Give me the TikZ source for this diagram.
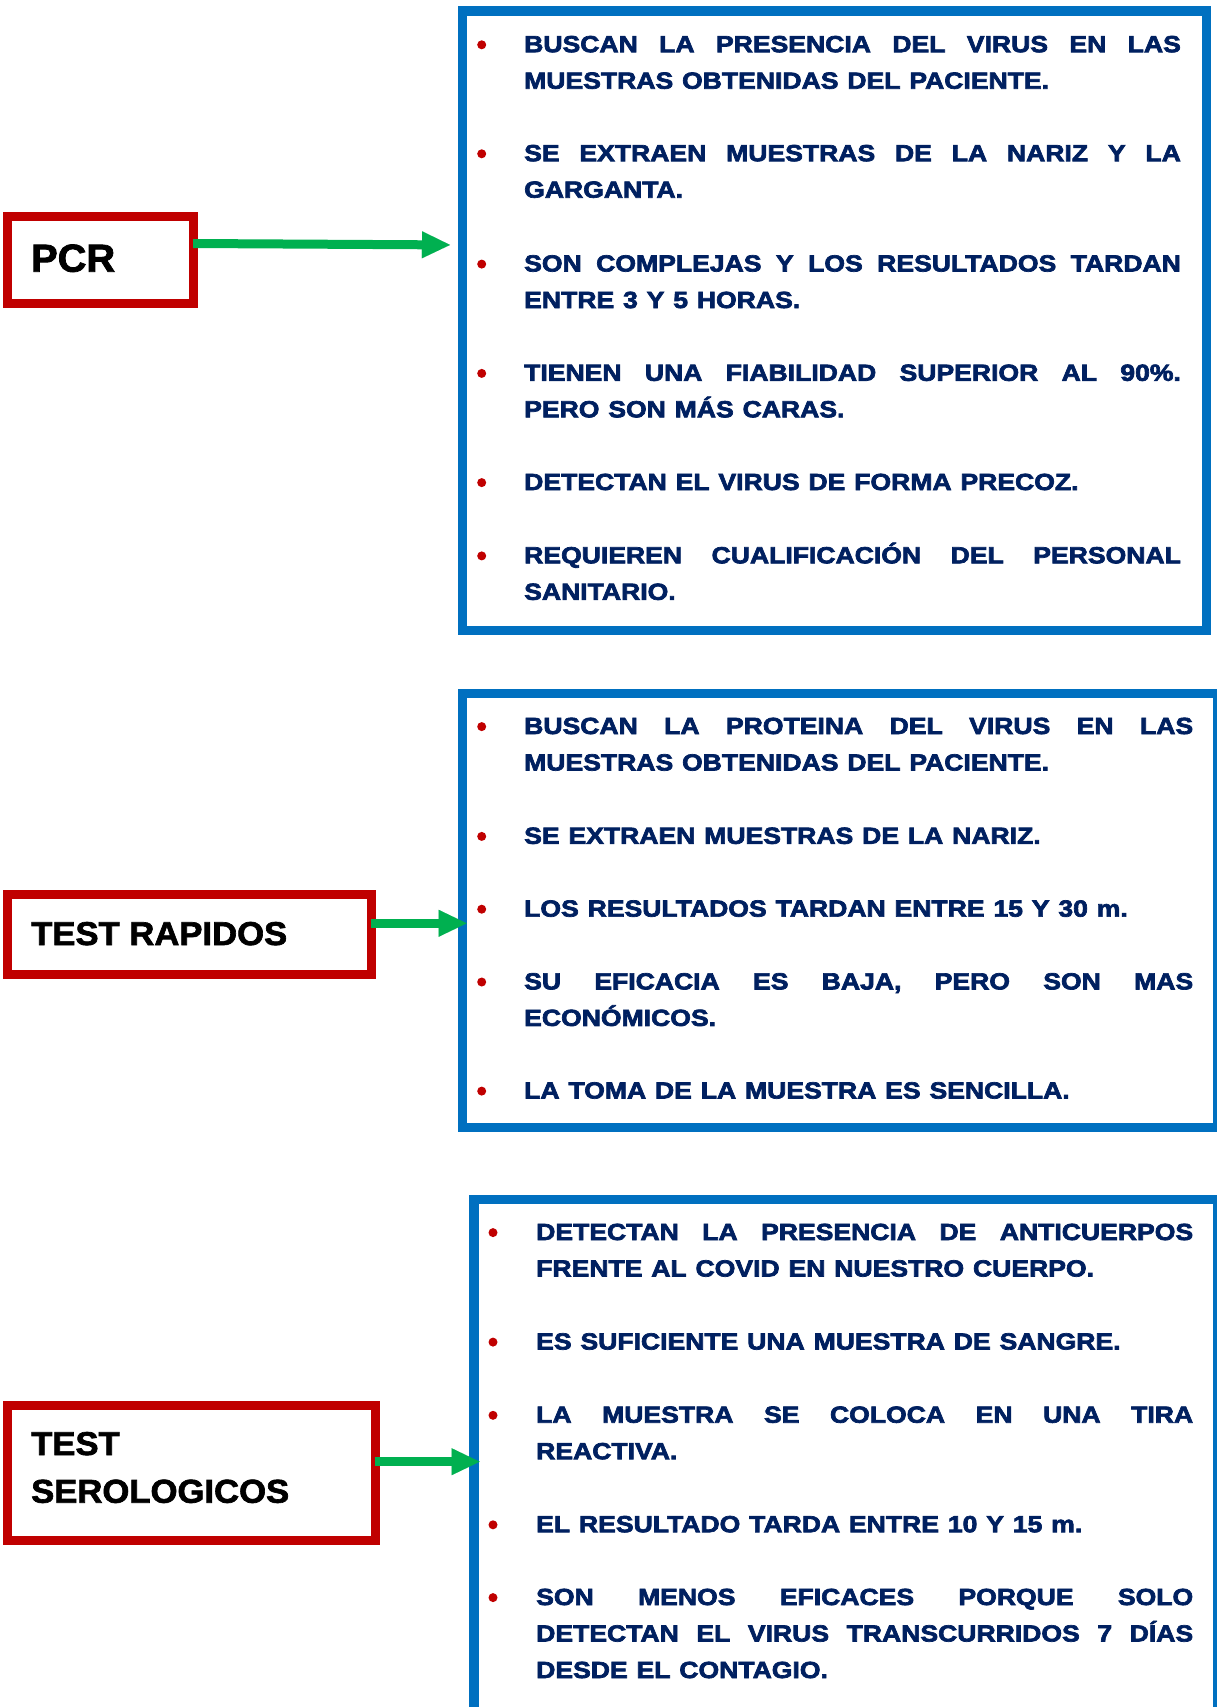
\documentclass[tikz,border=0pt]{standalone}
\usepackage{fontspec}
\setmainfont{Liberation Sans}
\newfontfamily\btfam{Liberation Sans Bold}[FakeStretch=1.14, FakeBold=3, WordSpace=1.2]
\newfontfamily\lbfam{Liberation Sans Bold}[FakeStretch=1.05, FakeBold=2]
\newfontfamily\pcrfam{Liberation Sans Bold}[FakeStretch=1.02, FakeBold=2]
\usetikzlibrary{arrows.meta}
\definecolor{navy}{HTML}{002060}
\definecolor{boxred}{HTML}{C00000}
\definecolor{boxblue}{HTML}{0070C0}
\definecolor{arrgreen}{HTML}{00B050}
\newdimen\tw
\newcommand\jl[1]{\hbox to\tw{#1}}
\newcommand\nl[1]{\hbox{#1}}
\newcommand\bitem[5]{%
  \node[bul] (#1b) at (#2,#4-7.4) {};
  \node[itm] (#1) at (#3,#4) {#5};}
\begin{document}
\begin{tikzpicture}[x=1pt,y=-1pt,
  bbox/.style={draw=boxblue, line width=9.5pt, inner sep=0pt, outer sep=0pt},
  rbox/.style={draw=boxred, line width=9pt, inner sep=0pt, outer sep=0pt},
  bul/.style={circle, fill=boxred, draw=none, inner sep=0pt, minimum size=9pt},
  itm/.style={anchor=base west, inner sep=0pt, text=navy, font=\btfam\fontsize{23.3}{36.5}\selectfont},
  lab/.style={anchor=base west, inner sep=0pt, text=black, font=\lbfam\fontsize{33}{47.7}\selectfont},
  arr/.style={draw=arrgreen, line width=9pt, -{Triangle[length=28pt,width=27pt,line width=0.01pt]}}]
\useasboundingbox (0,0) rectangle (1217,1707);
\fill[white] (0,0) rectangle (1217,1707);
\clip (0,0) rectangle (1217,1707);

% red label boxes
\node[rbox, minimum width=186pt, minimum height=87.6pt] (pcr) at (100.2,260) {};
\node[rbox, minimum width=364.3pt, minimum height=79.8pt] (tr) at (189.2,934.1) {};
\node[rbox, minimum width=367.8pt, minimum height=135.7pt] (ts) at (191.1,1472.9) {};
\node[lab, font=\pcrfam\fontsize{39}{40}\selectfont] (pcrt) at (31,271.7) {PCR};
\node[lab] (trt) at (31,945) {TEST RAPIDOS};
\node[lab] (tst) at (31,1455) {\vtop{\hbox{TEST}\hbox{SEROLOGICOS}}};

% blue boxes
\node[bbox, minimum width=744pt, minimum height=619.6pt] (b1) at (834.4,320.7) {};
\node[bbox, minimum width=755.7pt, minimum height=433.9pt] (b2) at (840.15,910.55) {};
\node[bbox, minimum width=743.7pt, minimum height=530.3pt] (b3) at (845.85,1464.85) {};

% arrows
\draw[arr, shorten >=12.4pt] (pcr.east |- 0,243.5) -- (b1.west |- 0,245);
\draw[arr, shorten >=-4.3pt] (tr.east |- 0,923.3) -- (b2.west |- 0,923.3);
\draw[arr, shorten >=-5.6pt] (ts.east |- 0,1461.7) -- (b3.west |- 0,1461.7);

% box 1
\tw=656.7pt
\bitem{p1}{481.7}{524}{52.2}{\vtop{\jl{BUSCAN LA PRESENCIA DEL VIRUS EN LAS}\nl{MUESTRAS OBTENIDAS DEL PACIENTE.}}}
\bitem{p2}{481.7}{524}{161.2}{\vtop{\jl{SE EXTRAEN MUESTRAS DE LA NARIZ Y LA}\nl{GARGANTA.}}}
\bitem{p3}{481.7}{524}{271.5}{\vtop{\jl{SON COMPLEJAS Y LOS RESULTADOS TARDAN}\nl{ENTRE 3 Y 5 HORAS.}}}
\bitem{p4}{481.7}{524}{380.8}{\vtop{\jl{TIENEN UNA FIABILIDAD SUPERIOR AL 90\%.}\nl{PERO SON MÁS CARAS.}}}
\bitem{p5}{481.7}{524}{490}{DETECTAN EL VIRUS DE FORMA PRECOZ.}
\bitem{p6}{481.7}{524}{563.3}{\vtop{\jl{REQUIEREN CUALIFICACIÓN DEL PERSONAL}\nl{SANITARIO.}}}

% box 2
\tw=669pt
\bitem{r1}{481.7}{524}{734}{\vtop{\jl{BUSCAN LA PROTEINA DEL VIRUS EN LAS}\nl{MUESTRAS OBTENIDAS DEL PACIENTE.}}}
\bitem{r2}{481.7}{524}{843.8}{SE EXTRAEN MUESTRAS DE LA NARIZ.}
\bitem{r3}{481.7}{524}{916.6}{LOS RESULTADOS TARDAN ENTRE 15 Y 30 m.}
\bitem{r4}{481.7}{524}{989.4}{\vtop{\jl{SU EFICACIA ES BAJA, PERO SON MAS}\nl{ECONÓMICOS.}}}
\bitem{r5}{481.7}{524}{1098.5}{LA TOMA DE LA MUESTRA ES SENCILLA.}

% box 3
\tw=657pt
\bitem{s1}{493}{536}{1240}{\vtop{\jl{DETECTAN LA PRESENCIA DE ANTICUERPOS}\nl{FRENTE AL COVID EN NUESTRO CUERPO.}}}
\bitem{s2}{493}{536}{1349.5}{ES SUFICIENTE UNA MUESTRA DE SANGRE.}
\bitem{s3}{493}{536}{1422.7}{\vtop{\jl{LA MUESTRA SE COLOCA EN UNA TIRA}\nl{REACTIVA.}}}
\bitem{s4}{493}{536}{1532.2}{EL RESULTADO TARDA ENTRE 10 Y 15 m.}
\bitem{s5}{493}{536}{1605}{\vtop{\jl{SON MENOS EFICACES PORQUE SOLO}\jl{DETECTAN EL VIRUS TRANSCURRIDOS 7 DÍAS}\nl{DESDE EL CONTAGIO.}}}
\end{tikzpicture}
\end{document}
